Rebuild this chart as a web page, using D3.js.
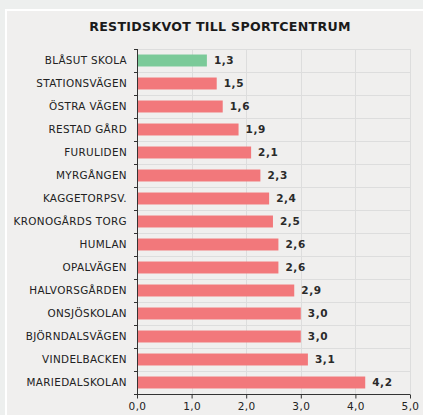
<!DOCTYPE html>
<html>
<head>
<meta charset="utf-8">
<script src="https://cdn.jsdelivr.net/npm/d3@7"></script>
<style>
  html, body { margin: 0; padding: 0; background: #edefee; }
  svg { display: block; font-family: "DejaVu Sans", Verdana, sans-serif; }
</style>
</head>
<body>
<svg id="chart" width="423" height="415"></svg>
<script>
const title = "RESTIDSKVOT TILL SPORTCENTRUM";

const places = [
  "BLÅSUT SKOLA", "STATIONSVÄGEN", "ÖSTRA VÄGEN", "RESTAD GÅRD", "FURULIDEN",
  "MYRGÅNGEN", "KAGGETORPSV.", "KRONOGÅRDS TORG", "HUMLAN", "OPALVÄGEN",
  "HALVORSGÅRDEN", "ONSJÖSKOLAN", "BJÖRNDALSVÄGEN", "VINDELBACKEN", "MARIEDALSKOLAN"
];

const ratios = [1.28, 1.46, 1.57, 1.86, 2.09, 2.26, 2.42, 2.49, 2.59, 2.59, 2.88, 3.0, 3.0, 3.13, 4.18];

const highlighted = ["BLÅSUT SKOLA"];

const xTicks = [0, 1, 2, 3, 4, 5];

const svLocale = d3.formatLocale({decimal: ",", thousands: " ", grouping: [3], currency: ["", " kr"]});
const fmt = svLocale.format(".1f");

const svg = d3.select("#chart");

// panel
svg.append("rect")
  .attr("x", 6).attr("y", 10)
  .attr("width", 430).attr("height", 420)
  .attr("fill", "#f0efee")
  .attr("stroke", "#ffffff")
  .attr("stroke-width", 2);

svg.append("text")
  .attr("x", 220).attr("y", 31)
  .attr("text-anchor", "middle")
  .attr("font-size", 12.6)
  .attr("font-weight", "bold")
  .attr("letter-spacing", 0.3)
  .attr("fill", "#1a1a1a")
  .text(title);

const margin = {left: 137, right: 13, top: 49, bottom: 21};
const x = d3.scaleLinear().domain([0, 5]).range([margin.left, 423 - margin.right]);
const y = d3.scaleBand().domain(places).range([margin.top, 415 - margin.bottom]).paddingInner(0.48).paddingOuter(0.24);

const step = y.step();
const bounds = d3.range(places.length + 1).map(i => margin.top + i * step);

// grid
const grid = svg.append("g").attr("stroke", "#dddddd").attr("stroke-width", 1);
grid.selectAll("line.h").data(bounds.slice(0, -1)).join("line")
  .attr("x1", x(0)).attr("x2", x(5))
  .attr("y1", d => Math.round(d) + 0.5).attr("y2", d => Math.round(d) + 0.5);
grid.selectAll("line.v").data(xTicks.slice(1)).join("line")
  .attr("x1", d => Math.round(x(d)) + 0.5).attr("x2", d => Math.round(x(d)) + 0.5)
  .attr("y1", margin.top).attr("y2", 415 - margin.bottom);

// bars
svg.append("g").selectAll("rect").data(places).join("rect")
  .attr("x", x(0))
  .attr("y", d => y(d))
  .attr("width", (d, i) => x(ratios[i]) - x(0))
  .attr("height", y.bandwidth())
  .attr("fill", d => highlighted.includes(d) ? "#7bca99" : "#f2787b");

// value labels
svg.append("g").selectAll("text").data(places).join("text")
  .attr("x", (d, i) => x(ratios[i]) + 7)
  .attr("y", d => y(d) + y.bandwidth() / 2)
  .attr("dy", "0.35em")
  .attr("font-size", 10.5)
  .attr("font-weight", "bold")
  .attr("letter-spacing", 0.6)
  .attr("fill", "#2a2a2a")
  .text((d, i) => fmt(ratios[i]));

// category labels
svg.append("g").selectAll("text").data(places).join("text")
  .attr("x", margin.left - 10)
  .attr("y", d => y(d) + y.bandwidth() / 2)
  .attr("dy", "0.35em")
  .attr("text-anchor", "end")
  .attr("font-size", 10.4)
  .attr("letter-spacing", 0.35)
  .attr("fill", "#222")
  .text(d => d);

// left axis line + boundary ticks
const axisColor = "#333";
svg.append("line")
  .attr("x1", x(0) + 0.5).attr("x2", x(0) + 0.5)
  .attr("y1", margin.top).attr("y2", 415 - margin.bottom)
  .attr("stroke", axisColor);
svg.append("g").selectAll("line").data(bounds).join("line")
  .attr("x1", x(0) - 3).attr("x2", x(0))
  .attr("y1", d => Math.round(d) + 0.5).attr("y2", d => Math.round(d) + 0.5)
  .attr("stroke", axisColor);

// bottom axis
const xAxis = d3.axisBottom(x).tickValues(xTicks).tickSize(4).tickFormat(fmt);
const gx = svg.append("g")
  .attr("transform", `translate(0,${Math.round(415 - margin.bottom) + 0.5})`)
  .call(xAxis);
gx.select(".domain").attr("stroke", axisColor).attr("d", `M${x(0)},0H${x(5)}`);
gx.selectAll(".tick line").attr("stroke", axisColor);
gx.selectAll(".tick text")
  .attr("font-family", "DejaVu Sans, Verdana, sans-serif")
  .attr("font-size", 10.5)
  .attr("letter-spacing", 0.4)
  .attr("fill", "#222")
  .attr("y", 8);
</script>
</body>
</html>
